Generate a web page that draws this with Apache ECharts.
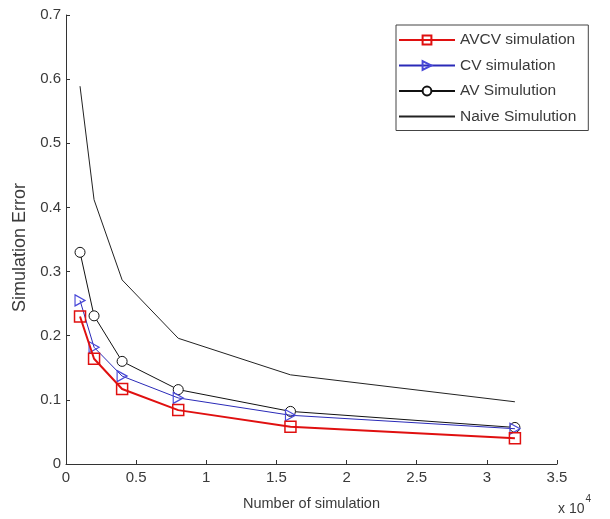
<!DOCTYPE html>
<html>
<head>
<meta charset="utf-8">
<script src="https://cdn.jsdelivr.net/npm/echarts@6/dist/echarts.min.js"></script>
<style>
html,body{margin:0;padding:0;background:#fff;}
#chart{width:610px;height:519px;}
</style>
</head>
<body>
<div id="chart"></div>
<script>
const nSim = [1000, 2000, 4000, 8000, 16000, 32000];
const avcvErr = [0.230, 0.164, 0.117, 0.084, 0.058, 0.040];
const cvErr = [0.255, 0.182, 0.137, 0.103, 0.076, 0.055];
const avErr = [0.330, 0.231, 0.160, 0.116, 0.082, 0.057];
const naiveErr = [0.589, 0.412, 0.287, 0.196, 0.139, 0.097];
const seriesNames = ['AVCV simulation', 'CV simulation', 'AV Simulution', 'Naive Simulution'];
const xScale = 1e4;

const toPts = arr => arr.map((v, i) => [nSim[i] / xScale, v]);
const FONT = 'Liberation Sans, Arial, sans-serif';
const TXT = '#3a3a3a';

const chart = echarts.init(document.getElementById('chart'), null, {renderer: 'canvas'});
chart.setOption({
  animation: false,
  backgroundColor: '#fff',
  grid: {left: 66, right: 53, top: 15, bottom: 55},
  xAxis: {
    type: 'value', min: 0, max: 3.5, interval: 0.5,
    name: 'Number of simulation', nameLocation: 'middle', nameGap: 32,
    nameTextStyle: {fontFamily: FONT, fontSize: 14.5, color: TXT},
    axisLine: {show: true, lineStyle: {color: '#333', width: 1}},
    axisTick: {show: true, inside: true, length: 4, lineStyle: {color: '#333'}},
    axisLabel: {fontFamily: FONT, fontSize: 15, color: TXT, margin: 6},
    splitLine: {show: false}
  },
  yAxis: {
    type: 'value', min: 0, max: 0.7, interval: 0.1,
    name: 'Simulation Error', nameLocation: 'middle', nameGap: 34,
    nameTextStyle: {fontFamily: FONT, fontSize: 18, color: TXT, padding: [0, 16, 0, 0]},
    axisLine: {show: true, lineStyle: {color: '#333', width: 1}},
    axisTick: {show: true, inside: true, length: 4, lineStyle: {color: '#333'}},
    axisLabel: {fontFamily: FONT, fontSize: 15, color: TXT, margin: 5},
    splitLine: {show: false}
  },
  legend: {
    orient: 'vertical', left: 396, top: 25,
    padding: [7, 12, 6, 2],
    itemWidth: 56, itemHeight: 11, itemGap: 9.5,
    backgroundColor: '#fff', borderColor: '#444', borderWidth: 1,
    textStyle: {fontFamily: FONT, fontSize: 15.5, color: TXT, padding: [0, 0, 0, 0]},
    data: [
      seriesNames[0], seriesNames[1], seriesNames[2],
      {name: seriesNames[3], itemStyle: {color: 'rgba(0,0,0,0)', borderColor: 'rgba(0,0,0,0)', borderWidth: 0}}
    ]
  },
  series: [
    {
      name: seriesNames[3], type: 'line', data: toPts(naiveErr),
      symbol: 'none', lineStyle: {color: '#222', width: 1}, itemStyle: {color: '#222'}, z: 2
    },
    {
      name: seriesNames[2], type: 'line', data: toPts(avErr),
      symbol: 'circle', symbolSize: 10, showAllSymbol: true,
      lineStyle: {color: '#111', width: 1},
      itemStyle: {color: '#fff', borderColor: '#111', borderWidth: 1}, z: 3
    },
    {
      name: seriesNames[1], type: 'line', data: toPts(cvErr),
      symbol: 'path://M0,0 L10,5 L0,10 Z', symbolSize: [10, 11], symbolKeepAspect: false,
      lineStyle: {color: '#2a2ab8', width: 1},
      itemStyle: {color: 'rgba(255,255,255,0)', borderColor: '#4848d8', borderWidth: 1.2}, z: 4
    },
    {
      name: seriesNames[0], type: 'line', data: toPts(avcvErr),
      symbol: 'rect', symbolSize: 11,
      lineStyle: {color: '#e01010', width: 2},
      itemStyle: {color: 'rgba(255,255,255,0)', borderColor: '#e01010', borderWidth: 1.5}, z: 5
    }
  ],
  graphic: [{
    type: 'text', left: 558, top: 494,
    style: {
      text: '{a|x 10}{b|4}',
      rich: {
        a: {fontFamily: FONT, fontSize: 14, fill: TXT, padding: [8, 0, 0, 0]},
        b: {fontFamily: FONT, fontSize: 10, fill: TXT, verticalAlign: 'top', padding: [0, 0, 8, 1]}
      }
    }
  }]
});
</script>
</body>
</html>
